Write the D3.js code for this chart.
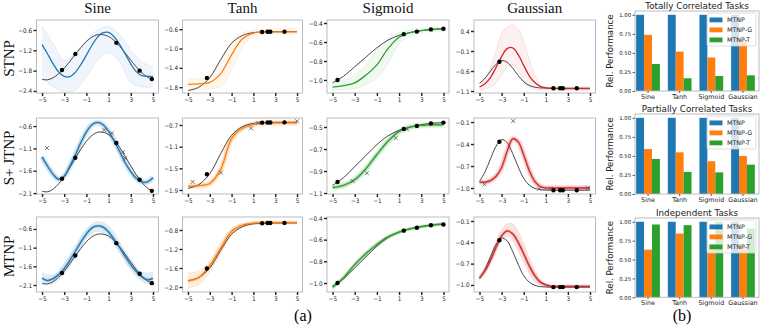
<!DOCTYPE html>
<html><head><meta charset="utf-8">
<script src="https://cdn.jsdelivr.net/npm/d3@7"></script>
<style>body{margin:0;background:#fff}svg{display:block}</style>
</head><body>
<svg id="c" width="761" height="325"></svg>
<script>
// ---------- DATA ----------
const xCoarse = [-5,-4,-3,-2,-1,0,1,2,3,4,5];
const xFine = [-5,-4.5,-4,-3.5,-3,-2.5,-2,-1.5,-1,-0.5,0,0.5,1,1.5,2,2.5,3,3.5,4,4.5,5];

const columns = ["Sine","Tanh","Sigmoid","Gaussian"];
const rowsNames = ["STNP","S+ JTNP","MTNP"];

// ground truth
const sineTruth = [-2.06,-2.07,-2.01,-1.89,-1.73,-1.53,-1.32,-1.12,-0.94,-0.81,-0.74,-0.74,-0.79,-0.91,-1.08,-1.28,-1.49,-1.69,-1.86,-1.99,-2.06];
const tanhTruth = [-1.87,-1.80,-1.60,-1.23,-0.89,-0.73,-0.67,-0.656,-0.652,-0.651,-0.65];
const sigmoidTruth = [-1.03,-0.96,-0.86,-0.76,-0.66,-0.58,-0.53,-0.50,-0.48,-0.465,-0.46];
const gaussTruth = [-0.91,-0.78,-0.60,-0.43,-0.34,-0.38,-0.53,-0.71,-0.87,-0.96,-1.005,-1.023,-1.028,-1.03,-1.03,-1.03,-1.03,-1.03,-1.03,-1.03,-1.03];

// context points
const sineCtxX = [-3.2,-2.0,1.7,3.8,4.9];
const sineCtxY = [-1.78,-1.31,-0.98,-1.80,-2.05];
const tanhCtxX = [-3.26,1.8,2.3,2.55,3.85];
const tanhCtxY = [-1.61,-0.657,-0.654,-0.653,-0.651];
const sigmoidCtxX = [-4.55,1.42,2.6,3.87,5.0];
const sigmoidCtxY = [-1.0,-0.517,-0.49,-0.467,-0.46];
const gaussCtxX = [-3.2,1.69,2.3,2.54,3.8];
const gaussCtxY = [-0.37,-1.03,-1.03,-1.03,-1.03];

// target points shown for S+ JTNP
const sineTgtX = [-4.55,0.6,1.3,2.3,2.5];
const sineTgtY = [-1.09,-0.69,-0.76,-1.18,-1.32];
const tanhTgtX = [-4.57,-1.97,0.78,1.43,5.0];
const tanhTgtY = [-1.75,-1.58,-0.76,-0.66,-0.63];
const sigmoidTgtX = [-3.2,-1.9,0.7,1.7];
const sigmoidTgtY = [-0.99,-0.92,-0.60,-0.52];
const gaussTgtX = [-4.55,-1.95,0.4,1.4,4.8];
const gaussTgtY = [-0.95,-0.085,-1.01,-1.01,-1.0];

// STNP
const stnpSineMean = [-1.03,-1.31,-1.60,-1.84,-1.97,-1.98,-1.85,-1.62,-1.34,-1.05,-0.81,-0.68,-0.67,-0.80,-1.03,-1.31,-1.60,-1.83,-1.95,-1.96,-1.98];
const stnpSineUpper = [-0.5,-1.0,-1.5,-1.28,-0.9,-0.6,-0.5,-0.75,-1.19,-1.54,-1.69];
const stnpSineLower = [-2.0,-2.28,-2.43,-2.37,-1.98,-1.5,-1.28,-1.55,-2.16,-2.28,-2.28];
const stnpTanhMean = [-1.74,-1.73,-1.70,-1.52,-1.13,-0.80,-0.68,-0.66,-0.655,-0.655,-0.655];
const stnpTanhUpper = [-1.62,-1.62,-1.55,-1.25,-0.85,-0.68,-0.62,-0.60,-0.60,-0.60,-0.60];
const stnpTanhLower = [-1.88,-1.86,-1.84,-1.78,-1.45,-0.98,-0.75,-0.70,-0.70,-0.70,-0.70];
const stnpSigMean = [-1.075,-1.06,-1.03,-0.95,-0.84,-0.67,-0.55,-0.50,-0.48,-0.47,-0.465];
const stnpSigUpper = [-1.03,-1.0,-0.95,-0.84,-0.68,-0.56,-0.50,-0.47,-0.455,-0.45,-0.45];
const stnpSigLower = [-1.11,-1.10,-1.09,-1.05,-0.98,-0.82,-0.62,-0.53,-0.50,-0.49,-0.485];
const stnpGaussMean = [-1.0,-0.92,-0.76,-0.51,-0.24,-0.04,-0.02,-0.19,-0.46,-0.72,-0.89,-0.985,-1.02,-1.036,-1.04,-1.04,-1.04,-1.04,-1.04,-1.04,-1.04];
const stnpGaussUpper = [-0.9,-0.8,-0.5,-0.1,0.35,0.5,0.55,0.45,0.15,-0.3,-0.7,-0.95,-1.0,-1.0,-1.0,-1.0,-1.0,-1.0,-1.0,-1.0,-1.0];
const stnpGaussLower = [-1.08,-1.06,-1.0,-0.9,-0.7,-0.5,-0.45,-0.6,-0.85,-1.0,-1.07,-1.08,-1.08,-1.08,-1.08,-1.08,-1.08,-1.08,-1.08,-1.08,-1.08];

// S+ JTNP
const jtnpSineMean = [-1.29,-1.50,-1.68,-1.79,-1.72,-1.50,-1.25,-0.97,-0.73,-0.57,-0.52,-0.57,-0.72,-0.93,-1.17,-1.42,-1.62,-1.77,-1.85,-1.85,-1.75];
const jtnpTanhMean = [-1.83,-1.82,-1.78,-1.52,-0.95,-0.76,-0.69,-0.665,-0.66,-0.66,-0.66];
const jtnpSigMean = [-1.05,-1.03,-0.98,-0.88,-0.75,-0.63,-0.54,-0.50,-0.485,-0.48,-0.48];
const jtnpGaussMean = [-0.92,-0.92,-0.90,-0.84,-0.72,-0.50,-0.33,-0.37,-0.55,-0.76,-0.91,-0.98,-1.0,-1.0,-1.0,-1.0,-1.0,-1.0,-1.0,-1.0,-1.0];

// MTNP
const mtnpSineMean = [-1.92,-1.98,-1.93,-1.82,-1.66,-1.44,-1.20,-0.95,-0.73,-0.57,-0.52,-0.55,-0.68,-0.88,-1.10,-1.34,-1.56,-1.74,-1.88,-1.96,-1.92];
const mtnpSineUpper = [-1.78,-1.84,-1.52,-1.05,-0.6,-0.4,-0.52,-0.95,-1.42,-1.76,-1.76];
const mtnpSineLower = [-2.06,-2.06,-1.80,-1.35,-0.86,-0.66,-0.82,-1.25,-1.70,-2.0,-2.08];
const mtnpTanhMean = [-1.87,-1.80,-1.55,-1.18,-0.83,-0.70,-0.655,-0.645,-0.645,-0.645,-0.645];
const mtnpTanhUpper = [-1.70,-1.66,-1.45,-1.06,-0.76,-0.66,-0.625,-0.62,-0.62,-0.62,-0.62];
const mtnpTanhLower = [-2.02,-1.95,-1.70,-1.30,-0.90,-0.74,-0.68,-0.67,-0.67,-0.67,-0.67];
const mtnpSigMean = [-1.04,-0.95,-0.83,-0.73,-0.645,-0.575,-0.53,-0.50,-0.48,-0.465,-0.455];
const mtnpSigUpper = [-1.02,-0.93,-0.81,-0.71,-0.625,-0.56,-0.515,-0.49,-0.47,-0.457,-0.448];
const mtnpSigLower = [-1.06,-0.97,-0.85,-0.75,-0.665,-0.595,-0.545,-0.51,-0.49,-0.475,-0.465];
const mtnpGaussMean = [-0.90,-0.80,-0.65,-0.47,-0.31,-0.24,-0.28,-0.40,-0.56,-0.73,-0.87,-0.96,-1.0,-1.02,-1.02,-1.02,-1.02,-1.02,-1.02,-1.02,-1.02];
const mtnpGaussUpper = [-0.86,-0.75,-0.58,-0.38,-0.22,-0.14,-0.14,-0.24,-0.42,-0.62,-0.80,-0.92,-0.98,-1.0,-1.0,-1.0,-1.0,-1.0,-1.0,-1.0,-1.0];
const mtnpGaussLower = [-0.93,-0.84,-0.70,-0.52,-0.37,-0.32,-0.38,-0.52,-0.68,-0.84,-0.95,-1.0,-1.03,-1.04,-1.04,-1.04,-1.04,-1.04,-1.04,-1.04,-1.04];

// axis ranges and ticks (rows x columns)
const yDomains = [
  [[-2.46,-0.305],[-1.92,-0.41],[-1.137,-0.368],[-1.15,0.675]],
  [[-2.12,-0.42],[-1.974,-0.571],[-1.109,-0.418],[-1.082,-0.045]],
  [[-2.287,-0.28],[-2.105,-0.527],[-1.083,-0.391],[-1.099,-0.044]]
];
const yTicks = [
  [[-2.4,-1.8,-1.2,-0.6],[-1.8,-1.4,-1.0,-0.6],[-1.0,-0.8,-0.6,-0.4],[-1.1,-0.6,-0.1,0.4]],
  [[-2.1,-1.6,-1.1,-0.6],[-1.9,-1.5,-1.1,-0.7],[-1.1,-0.9,-0.7,-0.5],[-1.0,-0.7,-0.4,-0.1]],
  [[-2.1,-1.6,-1.1,-0.6],[-2.0,-1.6,-1.2,-0.8],[-1.0,-0.8,-0.6,-0.4],[-1.0,-0.7,-0.4,-0.1]]
];
const xTicks = [-5,-3,-1,1,3,5];

// bar charts
const barCats = ["Sine","Tanh","Sigmoid","Gaussian"];
const barSeries = ["MTNP","MTNP-G","MTNP-T"];
const barTitles = ["Totally Correlated Tasks","Partially Correlated Tasks","Independent Tasks"];
const totallyMTNP = [1,1,1,1];
const totallyG = [0.737,0.517,0.44,0.67];
const totallyT = [0.355,0.167,0.197,0.206];
const partialMTNP = [1,1,1,1];
const partialG = [0.59,0.547,0.43,0.50];
const partialT = [0.46,0.29,0.284,0.385];
const indepMTNP = [1,1,1,1];
const indepG = [0.63,0.844,0.70,0.68];
const indepT = [0.964,0.955,1.0,0.91];
const barTicks = [0,0.25,0.5,0.75,1.0];

// ---------- LAYOUT / STYLE ----------
const svg = d3.select("#c");
const colX = [[36.5,158.5],[182.5,302.5],[327,449],[474,595.5]];
const rowY = [[20,93],[118,194],[217,292]];
const colColors = ["#1f77b4","#ff7f0e","#2ca02c","#d62728"];
const tickFont = "'DejaVu Sans Condensed','DejaVu Sans',sans-serif";
const serif = "'Liberation Serif','Times New Roman',serif";

const truthSets = [
  {x:xFine, y:sineTruth},{x:xCoarse,y:tanhTruth},{x:xCoarse,y:sigmoidTruth},{x:xFine,y:gaussTruth}
];
const ctxSets = [[sineCtxX,sineCtxY],[tanhCtxX,tanhCtxY],[sigmoidCtxX,sigmoidCtxY],[gaussCtxX,gaussCtxY]];
const tgtSets = [[sineTgtX,sineTgtY],[tanhTgtX,tanhTgtY],[sigmoidTgtX,sigmoidTgtY],[gaussTgtX,gaussTgtY]];
const predSets = [
  [ {x:xFine,m:stnpSineMean,bx:xCoarse,lo:stnpSineLower,hi:stnpSineUpper},
    {x:xCoarse,m:stnpTanhMean,bx:xCoarse,lo:stnpTanhLower,hi:stnpTanhUpper},
    {x:xCoarse,m:stnpSigMean,bx:xCoarse,lo:stnpSigLower,hi:stnpSigUpper},
    {x:xFine,m:stnpGaussMean,bx:xFine,lo:stnpGaussLower,hi:stnpGaussUpper} ],
  [ {x:xFine,m:jtnpSineMean},{x:xCoarse,m:jtnpTanhMean},{x:xCoarse,m:jtnpSigMean},{x:xFine,m:jtnpGaussMean} ],
  [ {x:xFine,m:mtnpSineMean,bx:xCoarse,lo:mtnpSineLower,hi:mtnpSineUpper},
    {x:xCoarse,m:mtnpTanhMean,bx:xCoarse,lo:mtnpTanhLower,hi:mtnpTanhUpper},
    {x:xCoarse,m:mtnpSigMean,bx:xCoarse,lo:mtnpSigLower,hi:mtnpSigUpper},
    {x:xFine,m:mtnpGaussMean,bx:xFine,lo:mtnpGaussLower,hi:mtnpGaussUpper} ]
];

const defs = svg.append("defs");
const curve = d3.curveCatmullRom.alpha(0.5);

function styleAxis(g){
  g.select(".domain").remove();
  g.selectAll(".tick line").attr("stroke","#222").attr("stroke-width",1.4);
  g.selectAll(".tick text").attr("font-family",tickFont).attr("font-size",6.3).attr("fill","#222");
}

for(let r=0;r<3;r++){
  for(let c=0;c<4;c++){
    const [x0,x1]=colX[c], [y0,y1]=rowY[r];
    const xs = d3.scaleLinear().domain([-5.5,5.5]).range([x0,x1]);
    const ys = d3.scaleLinear().domain(yDomains[r][c]).range([y1,y0]);
    const col = colColors[c];
    const id = `clip${r}${c}`;
    defs.append("clipPath").attr("id",id).append("rect").attr("x",x0).attr("y",y0).attr("width",x1-x0).attr("height",y1-y0);
    const g = svg.append("g");
    const pg = g.append("g").attr("clip-path",`url(#${id})`);
    const line = d3.line().x(d=>xs(d[0])).y(d=>ys(d[1])).curve(curve);
    const p = predSets[r][c];
    if(p.lo){
      const bd = p.bx.map((x,i)=>[x,p.lo[i],p.hi[i]]);
      const area = d3.area().x(d=>xs(d[0])).y0(d=>ys(d[1])).y1(d=>ys(d[2])).curve(curve);
      pg.append("path").attr("d",area(bd)).attr("fill",col).attr("fill-opacity",r===0?0.07:0.13);
      [1,2].forEach(k=>pg.append("path").attr("d",line(bd.map(d=>[d[0],d[k]]))).attr("fill","none").attr("stroke",col).attr("stroke-opacity",0.14).attr("stroke-width",0.7));
    }
    const md = p.x.map((x,i)=>[x,p.m[i]]);
    if(r>=1){
      pg.append("path").attr("d",line(md)).attr("fill","none").attr("stroke",col).attr("stroke-opacity",r===1?0.12:0.1).attr("stroke-width",r===1?6:4);
      pg.append("path").attr("d",line(md)).attr("fill","none").attr("stroke",col).attr("stroke-opacity",0.22).attr("stroke-width",r===1?3.5:2.5);
    }
    const td = truthSets[c].x.map((x,i)=>[x,truthSets[c].y[i]]);
    pg.append("path").attr("d",line(td)).attr("fill","none").attr("stroke","#333").attr("stroke-width",0.9);
    pg.append("path").attr("d",line(md)).attr("fill","none").attr("stroke",col).attr("stroke-width",1.3);
    // context points
    const [cx,cy]=ctxSets[c];
    g.selectAll(null).data(cx.map((x,i)=>[x,cy[i]])).join("circle")
      .attr("cx",d=>xs(d[0])).attr("cy",d=>ys(d[1])).attr("r",2.2).attr("fill","#000");
    if(r===1){
      const [tx,ty]=tgtSets[c];
      g.selectAll(null).data(tx.map((x,i)=>[x,ty[i]])).join("path")
        .attr("d",d=>{const X=xs(d[0]),Y=ys(d[1]),s=2;return `M${X-s},${Y-s}L${X+s},${Y+s}M${X-s},${Y+s}L${X+s},${Y-s}`;})
        .attr("stroke","#555").attr("stroke-width",0.8);
    }
    // frame
    g.append("rect").attr("x",x0).attr("y",y0).attr("width",x1-x0).attr("height",y1-y0)
      .attr("fill","none").attr("stroke","#b5b5b5").attr("stroke-width",0.9);
    const ax = g.append("g").attr("transform",`translate(0,${y1})`)
      .call(d3.axisBottom(xs).tickValues(xTicks).tickFormat(d3.format("d")).tickSize(3).tickPadding(1.5));
    styleAxis(ax);
    const ay = g.append("g").attr("transform",`translate(${x0},0)`)
      .call(d3.axisLeft(ys).tickValues(yTicks[r][c]).tickFormat(d3.format(".1f")).tickSize(3).tickPadding(1.5));
    styleAxis(ay);
  }
}

// column titles
columns.forEach((t,c)=>{
  svg.append("text").attr("x",(colX[c][0]+colX[c][1])/2).attr("y",13).attr("text-anchor","middle")
    .attr("font-family",serif).attr("font-size",15).attr("fill","#111").text(t);
});
// row labels
rowsNames.forEach((t,r)=>{
  const cy=(rowY[r][0]+rowY[r][1])/2+2;
  svg.append("text").attr("transform",`translate(14,${cy}) rotate(-90)`).attr("text-anchor","middle")
    .attr("font-family",serif).attr("font-size",15).attr("fill","#111").text(t);
});
svg.append("text").attr("x",303).attr("y",321).attr("text-anchor","middle").attr("font-family",serif).attr("font-size",16).text("(a)");
svg.append("text").attr("x",682).attr("y",321).attr("text-anchor","middle").attr("font-family",serif).attr("font-size",16).text("(b)");

// ---------- BAR CHARTS ----------
const barData = [[totallyMTNP,totallyG,totallyT],[partialMTNP,partialG,partialT],[indepMTNP,indepG,indepT]];
const barBoxX = [635,759];
const barBoxY = [[11,91],[114,194],[218,297.3]];
const sansF = "'DejaVu Sans',sans-serif";
for(let p=0;p<3;p++){
  const [bx0,bx1]=barBoxX, [by0,by1]=barBoxY[p];
  const xg = d3.scaleBand().domain(barCats).range([632.2,758.8]).paddingInner(0).paddingOuter(0);
  const xsub = d3.scaleBand().domain(barSeries).range([0,xg.bandwidth()]).paddingInner(0).paddingOuter(0.5);
  const ys = d3.scaleLinear().domain([0,1.05]).range([by1,by0]);
  const g = svg.append("g");
  barSeries.forEach((s,si)=>{
    g.selectAll(null).data(barCats.map((cat,i)=>({cat,v:barData[p][si][i]}))).join("rect")
      .attr("x",d=>xg(d.cat)+xsub(s)).attr("width",xsub.bandwidth())
      .attr("y",d=>ys(d.v)).attr("height",d=>ys(0)-ys(d.v)).attr("fill",colColors[si]);
  });
  g.append("rect").attr("x",bx0).attr("y",by0).attr("width",bx1-bx0).attr("height",by1-by0)
    .attr("fill","none").attr("stroke","#b5b5b5").attr("stroke-width",0.9);
  const ay = g.append("g").attr("transform",`translate(${bx0},0)`)
    .call(d3.axisLeft(ys).tickValues(barTicks).tickFormat(d3.format(".2f")).tickSize(2.5).tickPadding(1.5));
  ay.select(".domain").remove();
  ay.selectAll(".tick line").attr("stroke","#333").attr("stroke-width",0.8);
  ay.selectAll(".tick text").attr("font-family",sansF).attr("font-size",5.3).attr("fill","#222");
  const ax = g.append("g").attr("transform",`translate(0,${by1})`)
    .call(d3.axisBottom(xg).tickSize(2).tickPadding(1.5));
  ax.select(".domain").remove();
  ax.selectAll(".tick line").attr("stroke","#333").attr("stroke-width",0.8);
  ax.selectAll(".tick text").attr("font-family",sansF).attr("font-size",6.4).attr("fill","#222");
  g.append("text").attr("x",(bx0+bx1)/2).attr("y",by0-2.5).attr("text-anchor","middle")
    .attr("font-family",sansF).attr("font-size",8.8).attr("fill","#222").text(barTitles[p]);
  g.append("text").attr("transform",`translate(613,${(by0+by1)/2}) rotate(-90)`).attr("text-anchor","middle")
    .attr("font-family",sansF).attr("font-size",8.6).attr("fill","#222").text("Rel. Performance");
  // legend
  const lg = g.append("g").attr("transform",`translate(707,${by0+2})`);
  lg.append("rect").attr("width",49).attr("height",33).attr("rx",1.5).attr("fill","#fff").attr("fill-opacity",0.8).attr("stroke","#d0d0d0").attr("stroke-width",0.7);
  barSeries.forEach((s,si)=>{
    lg.append("rect").attr("x",2.5).attr("y",4.5+si*10).attr("width",13).attr("height",4.8).attr("fill",colColors[si]);
    lg.append("text").attr("x",20).attr("y",9.2+si*10).attr("font-family",sansF).attr("font-size",6.3).attr("fill","#222").text(s);
  });
}
</script>
</body></html>
